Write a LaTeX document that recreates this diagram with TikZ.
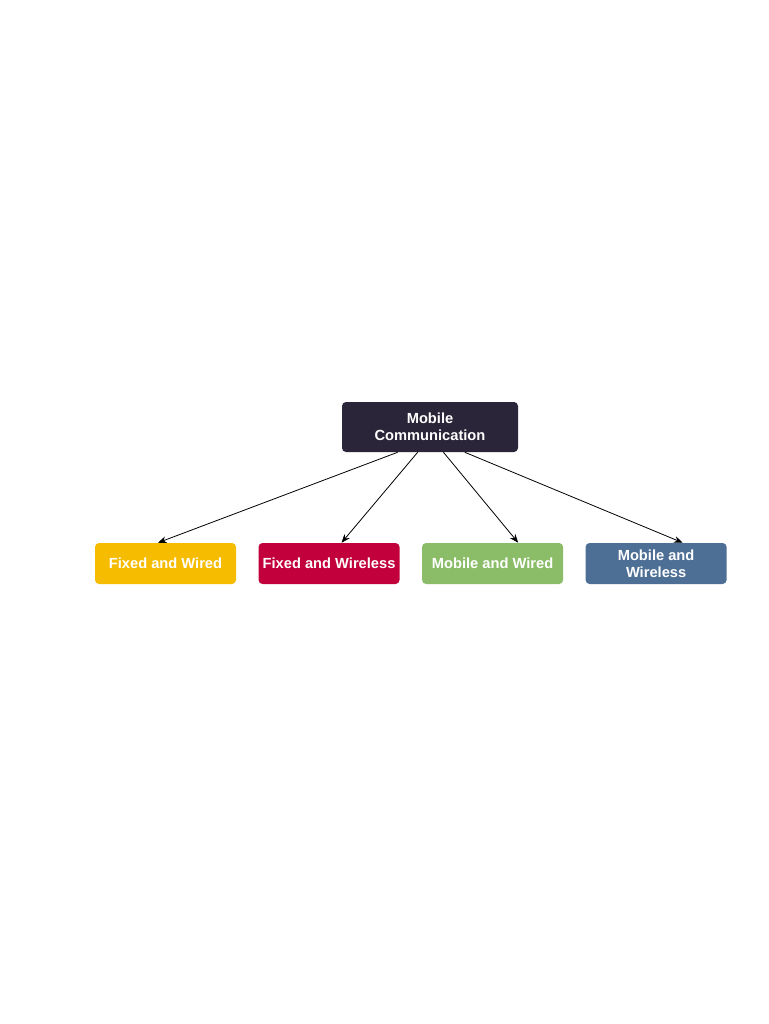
\documentclass[tikz,border=0pt]{standalone}
\usepackage{fontspec}
\setmainfont{Liberation Sans}
\usepackage{xcolor}
\usetikzlibrary{arrows.meta, positioning}

\definecolor{mcnavy}{HTML}{2A2538}
\definecolor{mcyellow}{HTML}{F6BC00}
\definecolor{mcred}{HTML}{C2003C}
\definecolor{mcgreen}{HTML}{8BBD69}
\definecolor{mcblue}{HTML}{4E6F95}

\tikzset{
  mode/.style={rounded corners=3pt, text=white, align=center, inner sep=0pt,
    minimum width=105.75pt, minimum height=30.75pt,
    font=\bfseries\fontsize{11}{12.75}\selectfont},
  link/.style={-{Stealth[length=6.5pt, width=5pt]}, semithick, black}
}

\begin{document}
\begin{tikzpicture}[x=0.75pt, y=-0.75pt, node distance=16.5pt]
\useasboundingbox[fill=white] (0,0) rectangle (768,1024);

\node[mode, fill=mcnavy, minimum width=132pt, minimum height=37.5pt] (mc) at (430,427) {Mobile\\Communication};

\node[mode, fill=mcyellow] (fw) at (165.5,563.5) {Fixed and Wired};
\node[mode, fill=mcred, right=of fw] (fwl) {Fixed and Wireless};
\node[mode, fill=mcgreen, right=of fwl] (mw) {Mobile and Wired};
\node[mode, fill=mcblue, right=of mw] (mwl) {Mobile and\\Wireless};

\draw[link] (mc.218) -- (fw.110);
\draw[link] (mc.244) -- (fwl.59);
\draw[link] (mc.298) -- (mw.39);
\draw[link] (mc.324) -- (mwl.38);
\end{tikzpicture}
\end{document}
